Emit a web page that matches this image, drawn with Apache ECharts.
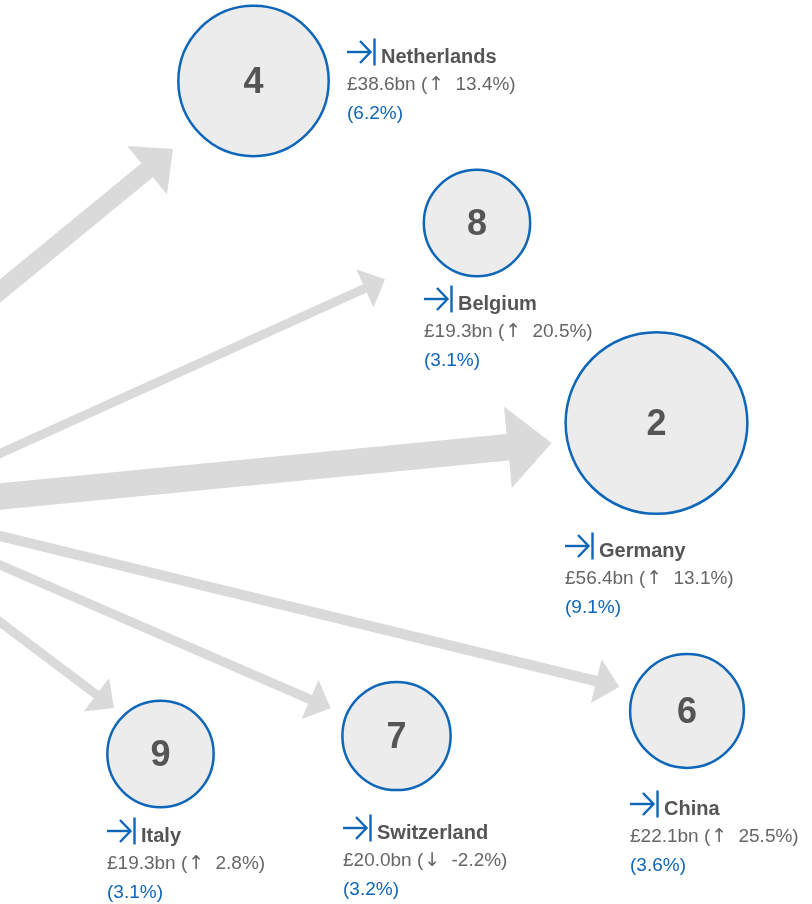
<!DOCTYPE html>
<html>
<head>
<meta charset="utf-8">
<script src="https://cdn.jsdelivr.net/npm/echarts@6/dist/echarts.min.js"></script>
<style>
html,body{margin:0;padding:0;background:#fff;}
#chart{width:812px;height:904px;}
</style>
</head>
<body>
<div id="chart"></div>
<script>
// ---- data ----
var countries = ['Netherlands', 'Belgium', 'Germany', 'China', 'Switzerland', 'Italy'];
var ranks = [4, 8, 2, 6, 7, 9];
var valuesBn = [38.6, 19.3, 56.4, 22.1, 20.0, 19.3];
var growthPct = [13.4, 20.5, 13.1, 25.5, -2.2, 2.8];
var sharePct = [6.2, 3.1, 9.1, 3.6, 3.2, 3.1];

// ---- layout (positions in the 812x904 canvas space) ----
var circleCenters = [[253.5, 81], [477, 223], [656.5, 423], [687, 711], [396.5, 736], [160.5, 754]];
var arrowStarts = [[-30, 315.6], [-30, 467.1], [-30, 499.4], [-30, 528.7], [-30, 552], [-30, 599.4]];
var arrowTips = [[173, 149], [385, 279.3], [551.7, 443], [619.3, 686.7], [330.7, 708.3], [114, 708]];
// label anchor: left edge of icon, vertical centre of icon
var labelAnchors = [[347, 52], [424, 299], [565, 546], [630, 804], [343, 828], [107, 831]];

var BLUE = '#0e66b8';
var FONT = '"Liberation Sans", Arial, Helvetica, sans-serif';

var chart = echarts.init(document.getElementById('chart'), null, {renderer: 'canvas'});

var arrowData = countries.map(function (c, i) {
  return [arrowStarts[i][0], arrowStarts[i][1], arrowTips[i][0], arrowTips[i][1], valuesBn[i]];
});
var circleData = countries.map(function (c, i) {
  return [circleCenters[i][0], circleCenters[i][1], valuesBn[i], ranks[i]];
});
var labelData = countries.map(function (c, i) {
  return [labelAnchors[i][0], labelAnchors[i][1], i];
});

function valueLine(i) {
  var g = growthPct[i];
  return '{v|\u00a3' + valuesBn[i].toFixed(1) + 'bn (}{a|' + (g >= 0 ? '\u2191' : '\u2193') + '}{v| ' + g.toFixed(1) + '%)}';
}

var option = {
  animation: false,
  backgroundColor: '#ffffff',
  grid: {left: 0, right: 0, top: 0, bottom: 0},
  xAxis: {type: 'value', min: 0, max: 812, show: false},
  yAxis: {type: 'value', min: 0, max: 904, inverse: true, show: false},
  series: [
    {
      type: 'custom',
      clip: false,
      silent: true,
      data: arrowData,
      renderItem: function (params, api) {
        var p0 = api.coord([api.value(0), api.value(1)]);
        var p1 = api.coord([api.value(2), api.value(3)]);
        var v = api.value(4);
        var shaft = 0.47 * v;
        var headW = 21 + 1.08 * v;
        var headL = 10.6 + 0.593 * v;
        var dx = p1[0] - p0[0], dy = p1[1] - p0[1];
        var len = Math.sqrt(dx * dx + dy * dy);
        var ux = dx / len, uy = dy / len;
        var nx = -uy, ny = ux;
        var bx = p1[0] - ux * headL, by = p1[1] - uy * headL;
        var pts = [
          [p0[0] + nx * shaft / 2, p0[1] + ny * shaft / 2],
          [bx + nx * shaft / 2, by + ny * shaft / 2],
          [bx + nx * headW / 2, by + ny * headW / 2],
          [p1[0], p1[1]],
          [bx - nx * headW / 2, by - ny * headW / 2],
          [bx - nx * shaft / 2, by - ny * shaft / 2],
          [p0[0] - nx * shaft / 2, p0[1] - ny * shaft / 2]
        ];
        return {type: 'polygon', shape: {points: pts}, style: {fill: '#dadada'}};
      },
      z: 1
    },
    {
      type: 'scatter',
      silent: true,
      data: circleData,
      symbol: 'circle',
      symbolSize: function (d) { return 24.2 * Math.sqrt(d[2]); },
      itemStyle: {color: '#ececec', borderColor: BLUE, borderWidth: 2.5, opacity: 1},
      label: {
        show: true,
        position: 'inside',
        offset: [0, 2],
        formatter: function (p) { return String(p.data[3]); },
        fontFamily: FONT,
        fontWeight: 'bold',
        fontSize: 36,
        color: '#555555'
      },
      emphasis: {disabled: true},
      z: 2
    },
    {
      type: 'custom',
      clip: false,
      silent: true,
      data: labelData,
      renderItem: function (params, api) {
        var p = api.coord([api.value(0), api.value(1)]);
        var i = api.value(2);
        var x = p[0], y = p[1];
        var ny = y + 5.5;
        var iconStyle = {stroke: BLUE, lineWidth: 2.4, fill: null, lineCap: 'butt', lineJoin: 'miter'};
        return {
          type: 'group',
          children: [
            {type: 'line', shape: {x1: x, y1: y, x2: x + 23, y2: y}, style: iconStyle},
            {type: 'polyline', shape: {points: [[x + 13, y - 11], [x + 23.5, y], [x + 13, y + 11]]}, style: iconStyle},
            {type: 'line', shape: {x1: x + 27.5, y1: y - 13.5, x2: x + 27.5, y2: y + 13.5}, style: {stroke: BLUE, lineWidth: 2.4}},
            {type: 'text', style: {x: x + 34, y: ny, text: countries[i], fill: '#555555',
              font: 'bold 20px ' + FONT, verticalAlign: 'middle', align: 'left'}},
            {type: 'text', style: {x: x, y: ny + 27.5, text: valueLine(i), verticalAlign: 'middle', align: 'left',
              rich: {
                v: {fill: '#666666', font: '19px ' + FONT},
                a: {fill: '#666666', font: '19px "DejaVu Sans", sans-serif', padding: [0, 6, 0, 1]}
              }}},
            {type: 'text', style: {x: x, y: ny + 56.5, text: '(' + sharePct[i].toFixed(1) + '%)', fill: BLUE,
              font: '19px ' + FONT, verticalAlign: 'middle', align: 'left'}}
          ]
        };
      },
      z: 3
    }
  ]
};
chart.setOption(option);
</script>
</body>
</html>
